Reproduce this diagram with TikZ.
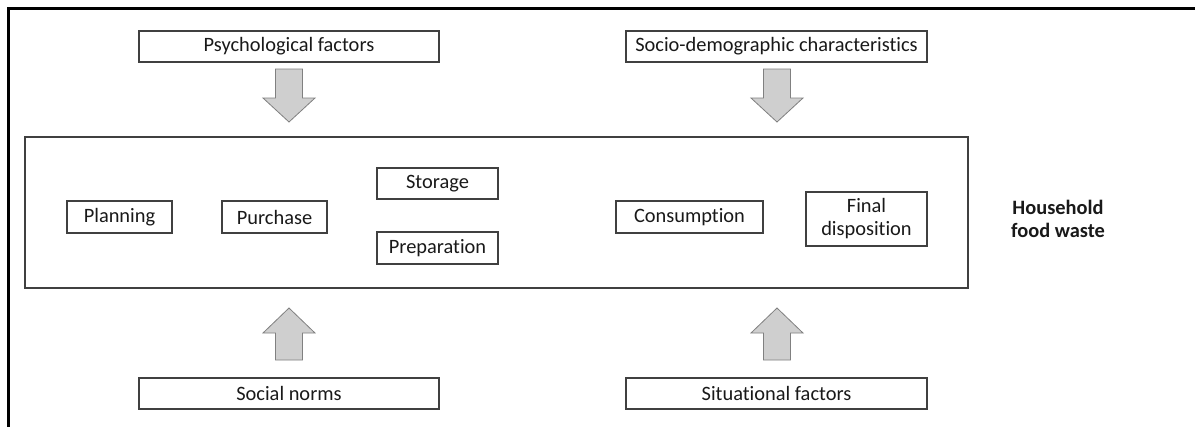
\documentclass[tikz,border=0pt]{standalone}
\usepackage{fontspec}
\setmainfont{Carlito}[Ligatures={NoCommon}]
\begin{document}
\begin{tikzpicture}[x=0.75pt,y=-0.75pt,
  box/.style={draw=black!75,line width=0.8pt,fill=white,inner sep=0pt,text=black!90,font=\fontsize{15.3}{17.3}\selectfont},
  blockarrow/.style={draw=black!50,fill=black!19,line width=0.6pt,line join=miter}]
\useasboundingbox (0,0) rectangle (1195,426);
\fill[white] (0,0) rectangle (1195,426);
\draw[line width=1.6pt] (8.5,440) -- (8.5,8.5) -- (1200,8.5);
% main box
\node[box,minimum width=943*0.75pt,minimum height=151*0.75pt] (main) at (496.5,212.5) {};
% factors
\node[box,minimum width=300*0.75pt,minimum height=31*0.75pt] (psy) at (289,46.5) {Psychological factors};
\node[box,minimum width=301*0.75pt,minimum height=31*0.75pt] (soc) at (776.5,46.5) {Socio-demographic characteristics};
\node[box,minimum width=300*0.75pt,minimum height=31*0.75pt] (norms) at (289,393.5) {Social norms};
\node[box,minimum width=301*0.75pt,minimum height=31*0.75pt] (sit) at (776.5,393.5) {Situational factors};
% stages
\node[box,minimum width=105*0.75pt,minimum height=32*0.75pt] (plan) at (119.5,217) {Planning};
\node[box,minimum width=105*0.75pt,minimum height=32*0.75pt] (purch) at (274.5,217) {Purchase};
\node[box,minimum width=121*0.75pt,minimum height=31*0.75pt] (stor) at (437.5,183.5) {Storage};
\node[box,minimum width=121*0.75pt,minimum height=32*0.75pt] (prep) at (437.5,248) {Preparation};
\node[box,minimum width=147*0.75pt,minimum height=32*0.75pt] (cons) at (689.5,217) {Consumption};
\node[box,minimum width=121*0.75pt,minimum height=54*0.75pt,align=center] (final) at (866.5,219) {Final\\disposition};
\node[font=\fontsize{15.3}{17.3}\selectfont\bfseries,align=center,text=black!90] (hfw) at (1058,219) {Household\\food waste};
% block arrows
\foreach \cx in {289,777}{
  \draw[blockarrow] (\cx-13.5,69) -- (\cx+13.5,69) -- (\cx+13.5,98) -- (\cx+26,98) -- (\cx,122)
     -- (\cx-26,98) -- (\cx-13.5,98) -- cycle;
  \draw[blockarrow] (\cx-13.5,360) -- (\cx+13.5,360) -- (\cx+13.5,333) -- (\cx+26,333) -- (\cx,308)
     -- (\cx-26,333) -- (\cx-13.5,333) -- cycle;
}
\end{tikzpicture}
\end{document}
